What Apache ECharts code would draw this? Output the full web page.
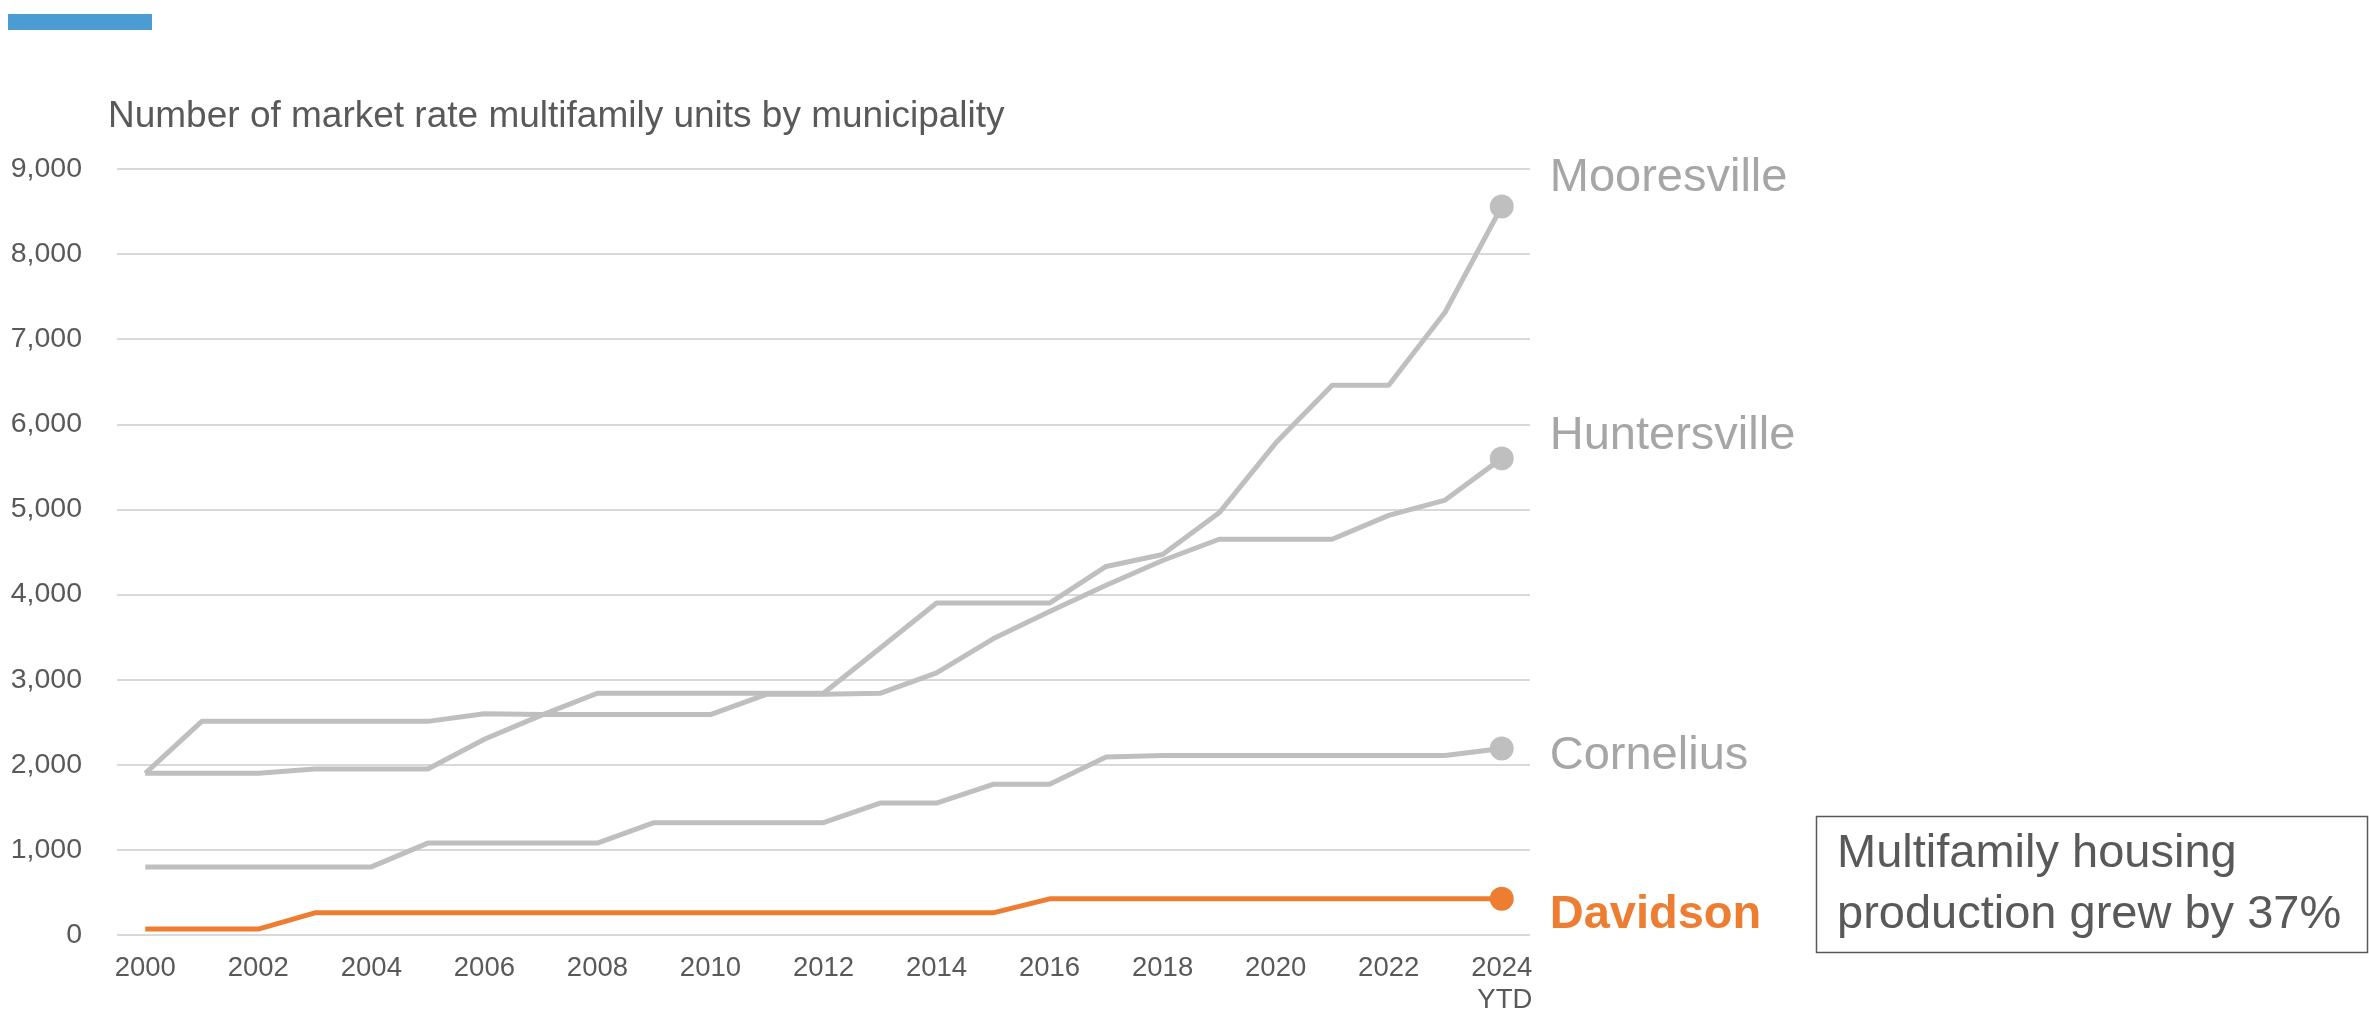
<!DOCTYPE html>
<html>
<head>
<meta charset="utf-8">
<script src="https://cdn.jsdelivr.net/npm/echarts@6/dist/echarts.min.js"></script>
<style>
  html, body { margin: 0; padding: 0; background: #fff; }
  #chart { width: 2369px; height: 1017px; }
</style>
</head>
<body>
<div id="chart"></div>
<script>
const years = ['2000', '2001', '2002', '2003', '2004', '2005', '2006', '2007', '2008', '2009', '2010', '2011', '2012',
  '2013', '2014', '2015', '2016', '2017', '2018', '2019', '2020', '2021', '2022', '2023', '2024']
const yTicks = [0, 1000, 2000, 3000, 4000, 5000, 6000, 7000, 8000, 9000]

const mooresville = [1900, 1900, 1900, 1950, 1950, 1950, 2300, 2580, 2840, 2840, 2840, 2840, 2840,
  3370, 3900, 3900, 3900, 4330, 4470, 4960, 5780, 6460, 6460, 7320, 8560]
const huntersville = [1900, 2510, 2510, 2510, 2510, 2510, 2600, 2590, 2590, 2590, 2590, 2830, 2830,
  2840, 3080, 3480, 3800, 4110, 4400, 4650, 4650, 4650, 4930, 5110, 5600]
const cornelius = [800, 800, 800, 800, 800, 1080, 1080, 1080, 1080, 1320, 1320, 1320, 1320,
  1550, 1550, 1770, 1770, 2090, 2110, 2110, 2110, 2110, 2110, 2110, 2190]
const davidson = [70, 70, 70, 260, 260, 260, 260, 260, 260, 260, 260, 260, 260,
  260, 260, 260, 425, 425, 425, 425, 425, 425, 425, 425, 425]

const FONT = '"Liberation Sans", Arial, sans-serif'
const GRAY = '#bfbfbf'
const ORANGE = '#ed7d31'
const TEXT = '#595959'
const last = years.length - 1

function lineSeries (name, data, color, labelColor, dy, bold) {
  return {
    name: name,
    type: 'line',
    data: data,
    symbol: 'circle',
    showAllSymbol: true,
    symbolSize: (v, p) => (p.dataIndex === last ? 24 : 0),
    lineStyle: { color: color, width: 5 },
    itemStyle: { color: color },
    emphasis: { disabled: true },
    endLabel: {
      show: true,
      formatter: name,
      distance: 48,
      offset: [0, dy],
      color: labelColor,
      fontSize: 47,
      fontWeight: bold ? 'bold' : 'normal',
      fontFamily: FONT
    }
  }
}

const chart = echarts.init(document.getElementById('chart'))
chart.setOption({
  animation: false,
  grid: { left: 117, right: 839, top: 169, bottom: 82 },
  xAxis: {
    type: 'category',
    data: years,
    boundaryGap: true,
    axisLine: { show: false },
    axisTick: { show: false },
    axisLabel: {
      interval: 1,
      margin: 17,
      color: TEXT,
      fontSize: 27.5,
      lineHeight: 32,
      fontFamily: FONT,
      formatter: v => (v === '2024' ? '{a|2024}\n{r|YTD}' : v),
      rich: {
        a: { color: TEXT, fontSize: 27.5, lineHeight: 32, fontFamily: FONT },
        r: { color: TEXT, fontSize: 27.5, lineHeight: 32, fontFamily: FONT, align: 'right' }
      }
    }
  },
  yAxis: {
    type: 'value',
    min: yTicks[0],
    max: yTicks[yTicks.length - 1],
    interval: 1000,
    axisLine: { show: false },
    axisTick: { show: false },
    splitLine: { lineStyle: { color: '#d9d9d9', width: 2 } },
    axisLabel: {
      margin: 35,
      color: TEXT,
      fontSize: 28.5,
      fontFamily: FONT,
      formatter: v => v.toLocaleString('en-US')
    }
  },
  series: [
    lineSeries('Mooresville', mooresville, GRAY, '#a6a6a6', -28, false),
    lineSeries('Huntersville', huntersville, GRAY, '#a6a6a6', -22, false),
    lineSeries('Cornelius', cornelius, GRAY, '#a6a6a6', 7, false),
    lineSeries('Davidson', davidson, ORANGE, ORANGE, 16, true)
  ],
  graphic: [
    {
      type: 'rect',
      shape: { x: 8, y: 14, width: 144, height: 16 },
      style: { fill: '#4b9cd3' }
    },
    {
      type: 'text',
      x: 108,
      y: 117,
      style: {
        text: 'Number of market rate multifamily units by municipality',
        fill: TEXT,
        fontSize: 37,
        fontFamily: FONT,
        verticalAlign: 'middle'
      }
    },
    {
      type: 'rect',
      shape: { x: 1816.5, y: 816.5, width: 551, height: 136 },
      style: { fill: '#fff', stroke: TEXT, lineWidth: 1.5 }
    },
    {
      type: 'text',
      x: 1837,
      y: 885,
      style: {
        text: 'Multifamily housing\nproduction grew by 37%',
        fill: TEXT,
        fontSize: 47,
        lineHeight: 61,
        fontFamily: FONT,
        verticalAlign: 'middle'
      }
    }
  ]
})
</script>
</body>
</html>
